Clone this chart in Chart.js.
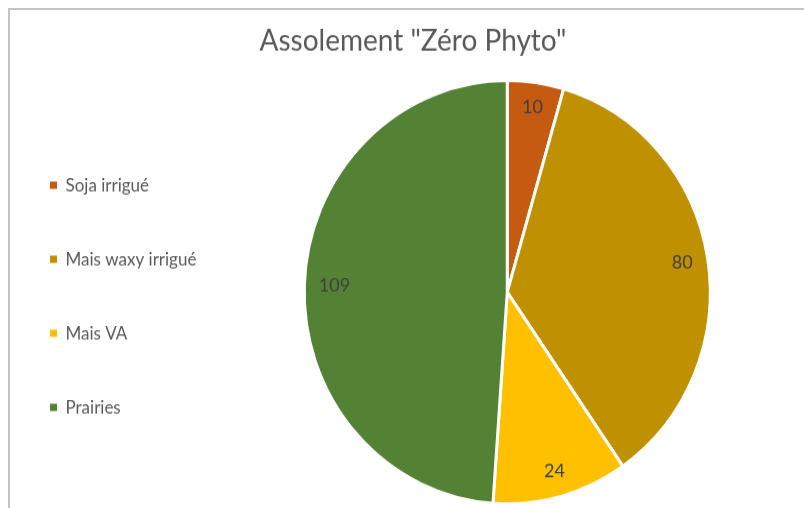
<!DOCTYPE html>
<html lang="fr">
<head>
<meta charset="utf-8">
<title>Assolement "Zéro Phyto"</title>
<script src="https://cdn.jsdelivr.net/npm/chart.js@4.4.1/dist/chart.umd.min.js"></script>
<style>
  html, body { margin: 0; padding: 0; background: #fff; overflow: hidden; width: 804px; height: 508px; }
  #frame { position: absolute; left: 8px; top: 8px; width: 900px; height: 600px;
           border-left: 2px solid #c4c4c4; border-top: 2px solid #c4c4c4; pointer-events: none; z-index: 2; }
  #chart { position: absolute; left: -40px; top: 10px; }
</style>
</head>
<body>
<canvas id="chart" width="906" height="490" style="width:906px;height:510.6px"></canvas>
<div id="frame"></div>
<script>
const TITLE = 'Assolement "Zéro Phyto"';
const labels = ['Soja irrigué', 'Mais waxy irrigué', 'Mais VA', 'Prairies'];
const values = [10, 80, 24, 109];
const colors = ['#C55A11', '#BF9000', '#FFC000', '#548235'];

const FONT = 'Lato, "Open Sans", sans-serif';
const TEXT_GREY = '#595959';

// value labels, placed just inside the outer edge of each slice
const sliceLabels = {
  id: 'sliceLabels',
  afterDatasetsDraw(chart) {
    const { ctx } = chart;
    const meta = chart.getDatasetMeta(0);
    ctx.save();
    ctx.font = '18px ' + FONT;
    ctx.fillStyle = '#404040';
    ctx.textAlign = 'center';
    ctx.textBaseline = 'middle';
    meta.data.forEach((arc, i) => {
      const { x, y, startAngle, endAngle, outerRadius } =
        arc.getProps(['x', 'y', 'startAngle', 'endAngle', 'outerRadius'], true);
      const mid = (startAngle + endAngle) / 2;
      const text = String(values[i]);
      const w = ctx.measureText(text).width;
      const h = 16;
      const d = outerRadius * 0.93 - (Math.abs(Math.cos(mid)) * w / 2 + Math.abs(Math.sin(mid)) * h / 2);
      ctx.fillText(text, x + Math.cos(mid) * d, y + Math.sin(mid) * d);
    });
    ctx.restore();
  }
};

// empty box on the right so the pie sits where it does in the original,
// while the title stays centred on the whole frame
const rightSpacer = {
  id: 'rightSpacer',
  beforeInit(chart) {
    Chart.layouts.addBox(chart, {
      position: 'right', weight: 0, fullSize: false, options: {},
      left: 0, top: 0, right: 0, bottom: 0, width: 0, height: 0,
      isHorizontal() { return false; },
      update(maxWidth, maxHeight) { this.width = 20; this.height = maxHeight; },
      getPadding() { return { left: 0, top: 0, right: 0, bottom: 0 }; },
      draw() {}
    });
  }
};

new Chart(document.getElementById('chart'), {
  type: 'pie',
  data: {
    labels,
    datasets: [{
      data: values,
      backgroundColor: colors,
      borderColor: '#ffffff',
      borderWidth: 3
    }]
  },
  options: {
    responsive: false,
    animation: false,
    radius: 203,
    layout: { padding: { left: 36, right: 36, top: 0, bottom: 8.8 } },
    plugins: {
      title: {
        display: true,
        text: TITLE,
        color: TEXT_GREY,
        font: { family: FONT, size: 28, weight: 'normal', lineHeight: 1.2 },
        padding: { top: 12.7, bottom: 13.7 }
      },
      legend: {
        position: 'left',
        title: { display: true, text: ' ', font: { size: 68, lineHeight: 1 }, padding: 0 },
        labels: {
          color: TEXT_GREY,
          font: { family: FONT, size: 17 },
          boxWidth: 7,
          boxHeight: 7,
          padding: 54,
          generateLabels: chart =>
            Chart.overrides.pie.plugins.legend.labels.generateLabels(chart)
              .map(l => ({ ...l, lineWidth: 0, strokeStyle: l.fillStyle }))
        }
      },
      tooltip: { enabled: false }
    }
  },
  plugins: [sliceLabels, rightSpacer]
});
</script>
</body>
</html>
